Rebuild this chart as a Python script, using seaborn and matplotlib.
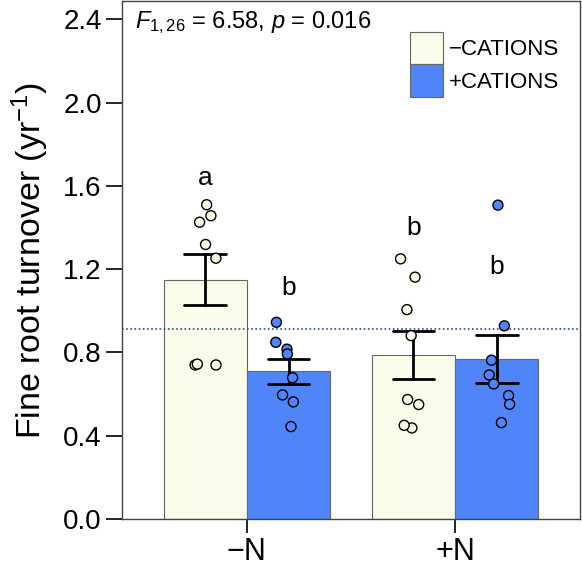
import numpy as np
import pandas as pd
import seaborn as sns
import matplotlib.pyplot as plt
from matplotlib.patches import Patch

# data
nitrogen = ["\u2212N", "+N"]
cations = ["\u2212CATIONS", "+CATIONS"]
minusN_minusC = [1.51, 1.457, 1.426, 1.319, 1.253, 0.74, 0.74, 0.744]
minusN_plusC = [0.945, 0.816, 0.849, 0.793, 0.679, 0.596, 0.5625, 0.444]
plusN_minusC = [1.25, 1.162, 1.006, 0.881, 0.574, 0.55, 0.4375, 0.45]
plusN_plusC = [1.508, 0.928, 0.763, 0.692, 0.649, 0.593, 0.551, 0.463]
letters = ["a", "b", "b", "b"]
letter_y = [1.64, 1.11, 1.40, 1.21]
ref_line = 0.913
yticks = [0.0, 0.4, 0.8, 1.2, 1.6, 2.0, 2.4]

colors = ["#FCFCEA", "#4F85F8"]

rows = []
for n, c, vals in [(nitrogen[0], cations[0], minusN_minusC),
                   (nitrogen[0], cations[1], minusN_plusC),
                   (nitrogen[1], cations[0], plusN_minusC),
                   (nitrogen[1], cations[1], plusN_plusC)]:
    for v in vals:
        rows.append({"N": n, "Cations": c, "turnover": v})
df = pd.DataFrame(rows)

sns.set_style("ticks")
plt.rcParams["font.family"] = ["Liberation Sans", "DejaVu Sans"]
plt.rcParams["mathtext.fontset"] = "custom"
plt.rcParams["mathtext.rm"] = "Liberation Sans"
plt.rcParams["mathtext.it"] = "Liberation Sans:italic"
for key in ["text.color", "axes.labelcolor", "xtick.color", "ytick.color"]:
    plt.rcParams[key] = "black"

fig = plt.figure(figsize=(5.82, 5.61), dpi=100)
ax = fig.add_axes([0.2096, 0.0749, 0.787, 0.923])

sns.barplot(data=df, x="N", y="turnover", hue="Cations", order=nitrogen,
            hue_order=cations, palette=colors, saturation=1, errorbar="se",
            capsize=0.4, err_kws={"color": "black", "linewidth": 2},
            edgecolor="#666666", linewidth=0.8, legend=False, ax=ax)

np.random.seed(3)
sns.stripplot(data=df, x="N", y="turnover", hue="Cations", order=nitrogen,
              hue_order=cations, palette=colors, dodge=True, jitter=0.13,
              size=7.2, edgecolor="black", linewidth=1, legend=False,
              zorder=5, ax=ax)

ax.axhline(ref_line, ls=(0, (1, 1.5)), color="#2B4C9A", lw=1.2, zorder=1.5)

for i, (lab, ly) in enumerate(zip(letters, letter_y)):
    xpos = i // 2 + (-0.2 if i % 2 == 0 else 0.2)
    ax.text(xpos, ly, lab, ha="center", va="center", fontsize=19)

ax.text(0.028, 0.985, r"$\mathit{F_{1,26}}$ = 6.58, $\mathit{p}$ = 0.016",
        transform=ax.transAxes, ha="left", va="top", fontsize=17)

handles = [Patch(facecolor=colors[0], edgecolor="#666666", linewidth=0.8),
           Patch(facecolor=colors[1], edgecolor="#666666", linewidth=0.8)]
ax.legend(handles, cations, loc="upper left", bbox_to_anchor=(0.628, 0.94),
          frameon=False, fontsize=16, handlelength=1.5, handleheight=1.85,
          labelspacing=0.0, handletextpad=0.25, borderpad=0, borderaxespad=0)

ax.set_ylim(0, 2.488)
ax.set_xlim(-0.6, 1.6)
ax.set_yticks(yticks)
ax.set_yticklabels([f"{t:.1f}" for t in yticks])
ax.set_xlabel("")
ax.set_ylabel("Fine root turnover (yr$^{\u22121}$)", fontsize=24.5, labelpad=9)
ax.tick_params(axis="y", labelsize=20, length=11.5, width=1.2, direction="out",
               color="black", pad=3)
ax.tick_params(axis="x", labelsize=22, length=10, width=1.2, direction="out",
               color="black", pad=3)
for s in ax.spines.values():
    s.set_color("#444444")
    s.set_linewidth(1.0)

fig.savefig("out.png", dpi=100)
